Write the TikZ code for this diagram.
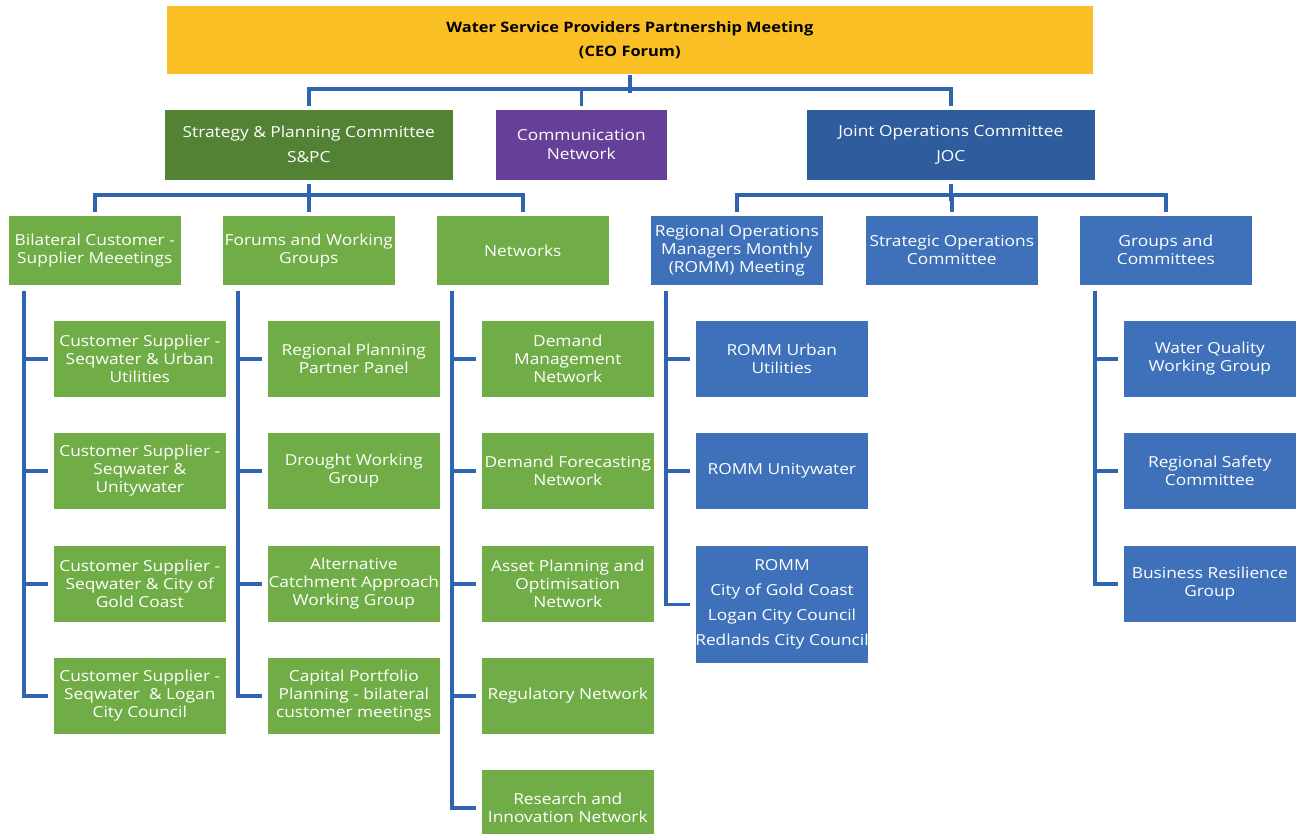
\documentclass[tikz,border=0pt]{standalone}
\usepackage{fontspec}
\setmainfont{Open Sans}[FakeStretch=1.14]
\definecolor{ttl}{HTML}{FBBF26}
\definecolor{dgreen}{HTML}{548235}
\definecolor{lgreen}{HTML}{70AD47}
\definecolor{purp}{HTML}{663F99}
\definecolor{dblue}{HTML}{2E5C9C}
\definecolor{lblue}{HTML}{3E71BA}
\definecolor{lin}{HTML}{2F64B0}
\tikzset{
  bx/.style={anchor=north west, draw=white, line width=0.6pt, text=white, align=center,
     inner sep=0pt, font=\fontsize{15.2}{18}\selectfont},
  s3/.style={bx, minimum width=173pt, minimum height=70pt},
  s4/.style={bx, minimum width=173pt, minimum height=77pt},
  gr/.style={fill=lgreen},
  bl/.style={fill=lblue},
  conn/.style={draw=lin, line width=3.5pt},
}
\begin{document}
\begin{tikzpicture}[x=1pt,y=-1pt]
\useasboundingbox (0,0) rectangle (1300,834);
\clip (0,0) rectangle (1300,834);
% top
\node[bx, fill=ttl, text=black, minimum width=927pt, minimum height=69pt,
  font=\bfseries\fontsize{14.4}{24}\selectfont] (ceo) at (166,5)
  {Water Service Providers Partnership Meeting\\(CEO Forum)};
\node[bx, fill=dgreen, minimum width=289pt, minimum height=71pt,
  font=\fontsize{15.2}{25}\selectfont] (spc) at (164,109)
  {Strategy \& Planning Committee\\S\&PC};
\node[bx, fill=purp, minimum width=172pt, minimum height=71pt,
  font=\fontsize{15.2}{19}\selectfont] (comm) at (495,109)
  {Communication\\Network};
\node[bx, fill=dblue, minimum width=289pt, minimum height=71pt,
  font=\fontsize{15.2}{25}\selectfont] (joc) at (806,109)
  {Joint Operations Committee\\JOC};
% level 3
\node[s3, gr] (bil) at (8,215) {Bilateral Customer -\\Supplier Meeetings};
\node[s3, gr] (for) at (222,215) {Forums and Working\\Groups};
\node[s3, gr] (net) at (436,215) {Networks};
\node[s3, bl] (romm) at (650,215) {Regional Operations\\Managers Monthly\\(ROMM) Meeting};
\node[s3, bl] (soc) at (865,215) {Strategic Operations\\Committee};
\node[s3, bl] (gac) at (1079,215) {Groups and\\Committees};
% bilateral children
\node[s4, gr] (b1) at (53,320) {Customer Supplier -\\Seqwater \& Urban\\Utilities};
\node[s4, gr] (b2) at (53,432) {Customer Supplier -\\Seqwater \&\\Unitywater};
\node[s4, gr] (b3) at (53,545) {Customer Supplier -\\Seqwater \& City of\\Gold Coast};
\node[s4, gr] (b4) at (53,657) {Customer Supplier -\\Seqwater\ \ \& Logan\\City Council};
% forums children
\node[s4, gr] (f1) at (267,320) {Regional Planning\\Partner Panel};
\node[s4, gr] (f2) at (267,432) {Drought Working\\Group};
\node[s4, gr] (f3) at (267,545) {Alternative\\Catchment Approach\\Working Group};
\node[s4, gr] (f4) at (267,657) {Capital Portfolio\\Planning - bilateral\\customer meetings};
% networks children
\node[s4, gr] (n1) at (481,320) {Demand\\Management\\Network};
\node[s4, gr] (n2) at (481,432) {Demand Forecasting\\Network};
\node[s4, gr] (n3) at (481,545) {Asset Planning and\\Optimisation\\Network};
\node[s4, gr] (n4) at (481,657) {Regulatory Network};
\node[s4, gr] (n5) at (481,769) {Research and\\Innovation Network};
% romm children
\node[s4, bl] (r1) at (695,320) {ROMM Urban\\Utilities};
\node[s4, bl] (r2) at (695,432) {ROMM Unitywater};
\node[s4, bl, minimum height=118pt, font=\fontsize{15.2}{25}\selectfont] (r3) at (695,545)
  {ROMM\\City of Gold Coast\\Logan City Council\\Redlands City Council};
% groups children
\node[s4, bl] (g1) at (1123,320) {Water Quality\\Working Group};
\node[s4, bl] (g2) at (1123,432) {Regional Safety\\Committee};
\node[s4, bl] (g3) at (1123,545) {Business Resilience\\Group};
% connectors top
\draw[conn] (ceo.south) -- ++(0,18);
\draw[conn] ([yshift=3pt]spc.north) -- ++(0,-17) -| ([yshift=3pt]joc.north);
\draw[conn] ([yshift=3pt]comm.north) -- ++(0,-17);
\draw[conn] ([yshift=-3pt]spc.south) -- ++(0,17);
\draw[conn] ([yshift=3pt]bil.north) -- ++(0,-17) -| ([yshift=3pt]net.north);
\draw[conn] ([yshift=3pt]for.north) -- ++(0,-17);
\draw[conn] ([yshift=-3pt]joc.south) -- ++(0,17);
\draw[conn] ([yshift=3pt]romm.north) -- ++(0,-17) -| ([yshift=3pt]gac.north);
\draw[conn] ([yshift=3pt]soc.north) -- ++(0,-17);
% side trees
\foreach \p/\kids in {bil/{b1,b2,b3,b4}, for/{f1,f2,f3,f4}, net/{n1,n2,n3,n4,n5},
    romm/{r1,r2,r3}, gac/{g1,g2,g3}} {
  \foreach \k in \kids {
    \draw[conn] ([xshift=16pt,yshift=-5pt]\p.south west) |- ([xshift=-5pt]\k.west);
  }
}
\end{tikzpicture}
\end{document}
